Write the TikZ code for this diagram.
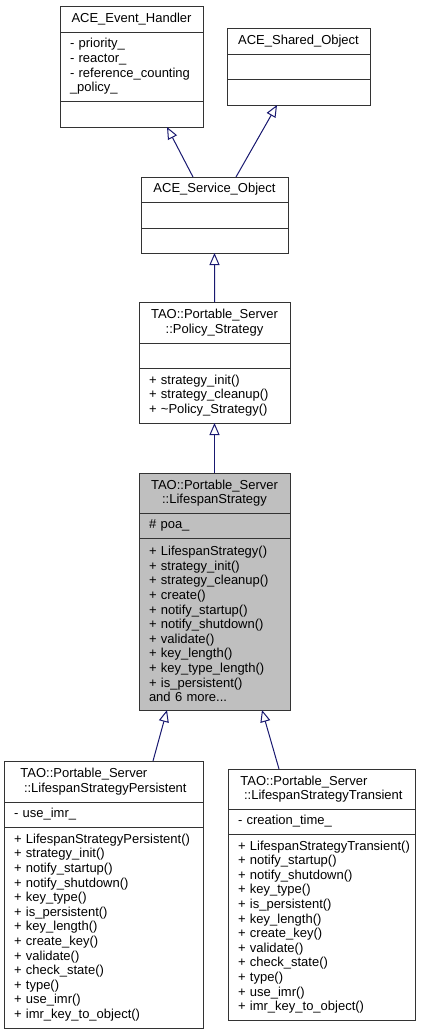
\documentclass[tikz,border=0pt]{standalone}
\usepackage{fontspec}
\setmainfont{Liberation Sans}
\usetikzlibrary{positioning,arrows.meta}
\definecolor{navyline}{RGB}{25,25,112}
\definecolor{focusgray}{RGB}{191,191,191}
\tikzset{
	umlbox/.style={draw=black!80, line width=1bp, inner xsep=10bp, inner ysep=0pt, outer sep=0pt, font=\fontsize{13bp}{14.6bp}\selectfont},
	umlhead/.style={umlbox, align=center},
	umllist/.style={umlbox, align=left},
	inherit/.style={draw=navyline, line width=1bp, -{Triangle[open, fill=white, length=12bp, width=10bp]}},
}

\begin{document}
\begin{tikzpicture}[x=1bp, y=-1bp]
		%%%%% START %%%%%
		\useasboundingbox (0, 0) rectangle (428, 1035);
		
		% ACE_Event_Handler
		\node[umlhead, anchor=north west, text width=123bp, minimum height=26bp] (evHead) at (60, 6) {ACE\_Event\_Handler};
		\node[umllist, below=0pt of evHead, text width=123bp, minimum height=69bp] (evAttr) {- priority\_\\- reactor\_\\- reference\_counting\\\_policy\_};
		\node[umllist, below=0pt of evAttr, text width=123bp, minimum height=26bp] (evOps) {};
		
		% ACE_Shared_Object
		\node[umlhead, anchor=north west, text width=123bp, minimum height=26bp] (shHead) at (227, 28) {ACE\_Shared\_Object};
		\node[umllist, below=0pt of shHead, text width=123bp, minimum height=25bp] (shAttr) {};
		\node[umllist, below=0pt of shAttr, text width=123bp, minimum height=26bp] (shOps) {};
		
		% ACE_Service_Object
		\node[umlhead, anchor=north west, text width=127bp, minimum height=25bp] (svcHead) at (141, 177) {ACE\_Service\_Object};
		\node[umllist, below=0pt of svcHead, text width=127bp, minimum height=26bp] (svcAttr) {};
		\node[umllist, below=0pt of svcAttr, text width=127bp, minimum height=25bp] (svcOps) {};
		
		% Policy_Strategy
		\node[umlhead, anchor=north west, text width=131bp, minimum height=41bp] (polHead) at (139, 302) {TAO::Portable\_Server\\::Policy\_Strategy};
		\node[umllist, below=0pt of polHead, text width=131bp, minimum height=25bp] (polAttr) {};
		\node[umllist, below=0pt of polAttr, text width=131bp, minimum height=55bp] (polOps) {+ strategy\_init()\\+ strategy\_cleanup()\\+ \textasciitilde Policy\_Strategy()};
		
		% LifespanStrategy
		\node[umlhead, anchor=north west, fill=focusgray, text width=131bp, minimum height=40bp] (lsHead) at (139, 473) {TAO::Portable\_Server\\::LifespanStrategy};
		\node[umllist, below=0pt of lsHead, fill=focusgray, text width=131bp, minimum height=25bp] (lsAttr) {\# poa\_};
		\node[umllist, below=0pt of lsAttr, fill=focusgray, text width=131bp, minimum height=172bp] (lsOps) {+ LifespanStrategy()\\+ strategy\_init()\\+ strategy\_cleanup()\\+ create()\\+ notify\_startup()\\+ notify\_shutdown()\\+ validate()\\+ key\_length()\\+ key\_type\_length()\\+ is\_persistent()\\and 6 more...};
		
		% LifespanStrategyPersistent
		\node[umlbox, align=left, anchor=north west, minimum width=199bp, minimum height=41bp] (perHead) at (4, 761) {TAO::Portable\_Server\\\ ::LifespanStrategyPersistent};
		\node[umllist, below=0pt of perHead, text width=179bp, minimum height=25bp] (perAttr) {- use\_imr\_};
		\node[umllist, below=0pt of perAttr, text width=179bp, minimum height=201bp] (perOps) {+ LifespanStrategyPersistent()\\+ strategy\_init()\\+ notify\_startup()\\+ notify\_shutdown()\\+ key\_type()\\+ is\_persistent()\\+ key\_length()\\+ create\_key()\\+ validate()\\+ check\_state()\\+ type()\\+ use\_imr()\\+ imr\_key\_to\_object()};
		
		% LifespanStrategyTransient
		\node[umlbox, align=left, anchor=north west, minimum width=187bp, minimum height=40bp] (trHead) at (228, 769) {TAO::Portable\_Server\\\ ::LifespanStrategyTransient};
		\node[umllist, below=0pt of trHead, text width=167bp, minimum height=25bp] (trAttr) {- creation\_time\_};
		\node[umllist, below=0pt of trAttr, text width=167bp, minimum height=186bp] (trOps) {\mbox{+ LifespanStrategyTransient()}\\+ notify\_startup()\\+ notify\_shutdown()\\+ key\_type()\\+ is\_persistent()\\+ key\_length()\\+ create\_key()\\+ validate()\\+ check\_state()\\+ type()\\+ use\_imr()\\+ imr\_key\_to\_object()};
		
		% inheritance
		\draw[inherit] ([xshift=-21.5bp]svcHead.north) -- ([xshift=35.5bp]evOps.south);
		\draw[inherit] ([xshift=21.5bp]svcHead.north) -- ([xshift=-21.5bp]shOps.south);
		\draw[inherit] (polHead.north) -- (svcOps.south);
		\draw[inherit] (lsHead.north) -- (polOps.south);
		\draw[inherit] ([xshift=49.5bp]perHead.north) -- ([xshift=-47.5bp]lsOps.south);
		\draw[inherit] ([xshift=-42.5bp]trHead.north) -- ([xshift=47.5bp]lsOps.south);
		
		%%%%% END %%%%%
\end{tikzpicture}
\end{document}
